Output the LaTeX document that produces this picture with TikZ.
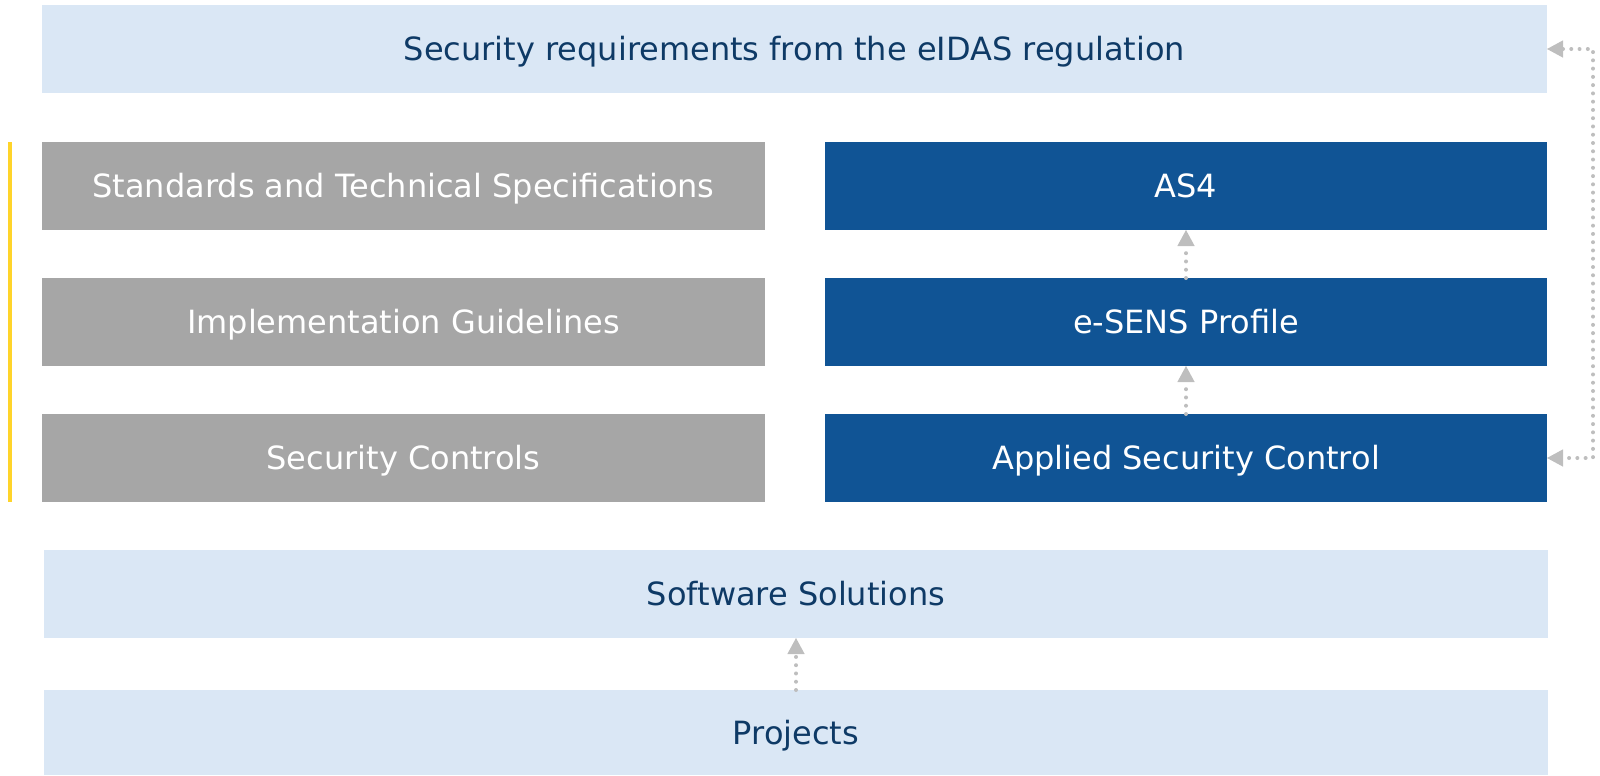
\documentclass[tikz,border=0pt]{standalone}
\usepackage{fontspec}
\setmainfont{DejaVu Sans}
\usetikzlibrary{arrows.meta}

\definecolor{paleblue}{RGB}{218,231,245}
\definecolor{deepblue}{RGB}{16,84,149}
\definecolor{navytext}{RGB}{14,58,102}
\definecolor{boxgray}{RGB}{166,166,166}
\definecolor{dotgray}{RGB}{190,190,190}
\definecolor{accentyellow}{RGB}{255,212,42}

\tikzset{
  layer/.style={fill=paleblue, text=navytext, minimum height=88*0.75pt, inner sep=0pt, outer sep=0pt, text height=17.5pt, text depth=0pt, font=\fontsize{24}{28}\selectfont},
  graybox/.style={layer, fill=boxgray, text=white, minimum width=723*0.75pt},
  bluebox/.style={layer, fill=deepblue, text=white, minimum width=722*0.75pt},
  flow/.style={draw=dotgray, line width=3pt, line cap=round, dash pattern=on 0pt off 6.2pt, -{Triangle[length=12pt, width=13pt, fill=dotgray, line width=0pt, sep=0pt]}},
}

\begin{document}
\begin{tikzpicture}[x=0.75pt, y=-0.75pt]
    \useasboundingbox (0,0) rectangle (1600,775);

    % eIDAS
    \node[layer, minimum width=1505*0.75pt] (req) at (794.5,49) {Security requirements from the eIDAS regulation};

    % left column
    \node[graybox] (std) at (403.5,186) {Standards and Technical Specifications};
    \node[graybox] (impl) at (403.5,322) {Implementation Guidelines};
    \node[graybox] (ctrl) at (403.5,458) {Security Controls};
    \draw[accentyellow, line width=2.5pt] (10,142) -- (10,502);

    % right column
    \node[bluebox] (as4) at (1186,186) {AS4};
    \node[bluebox] (esens) at (1186,322) {e-SENS Profile};
    \node[bluebox] (applied) at (1186,458) {Applied Security Control};

    % bottom
    \node[layer, minimum width=1504*0.75pt] (sw) at (796,594) {Software Solutions};
    \node[layer, minimum width=1504*0.75pt, minimum height=85*0.75pt] (proj) at (796,732.5) {Projects};

    % arrows
    \draw[flow] (esens.north) -- (as4.south);
    \draw[flow] (applied.north) -- (esens.south);
    \draw[flow] (proj.north) -- (sw.south);
    \coordinate (bend) at (1593,49);
    \draw[flow, {Triangle[length=12pt, width=13pt, fill=dotgray, line width=0pt, sep=0pt]}-{Triangle[length=12pt, width=13pt, fill=dotgray, line width=0pt, sep=0pt]}] (req.east) -- (bend) |- (applied.east);
\end{tikzpicture}
\end{document}
